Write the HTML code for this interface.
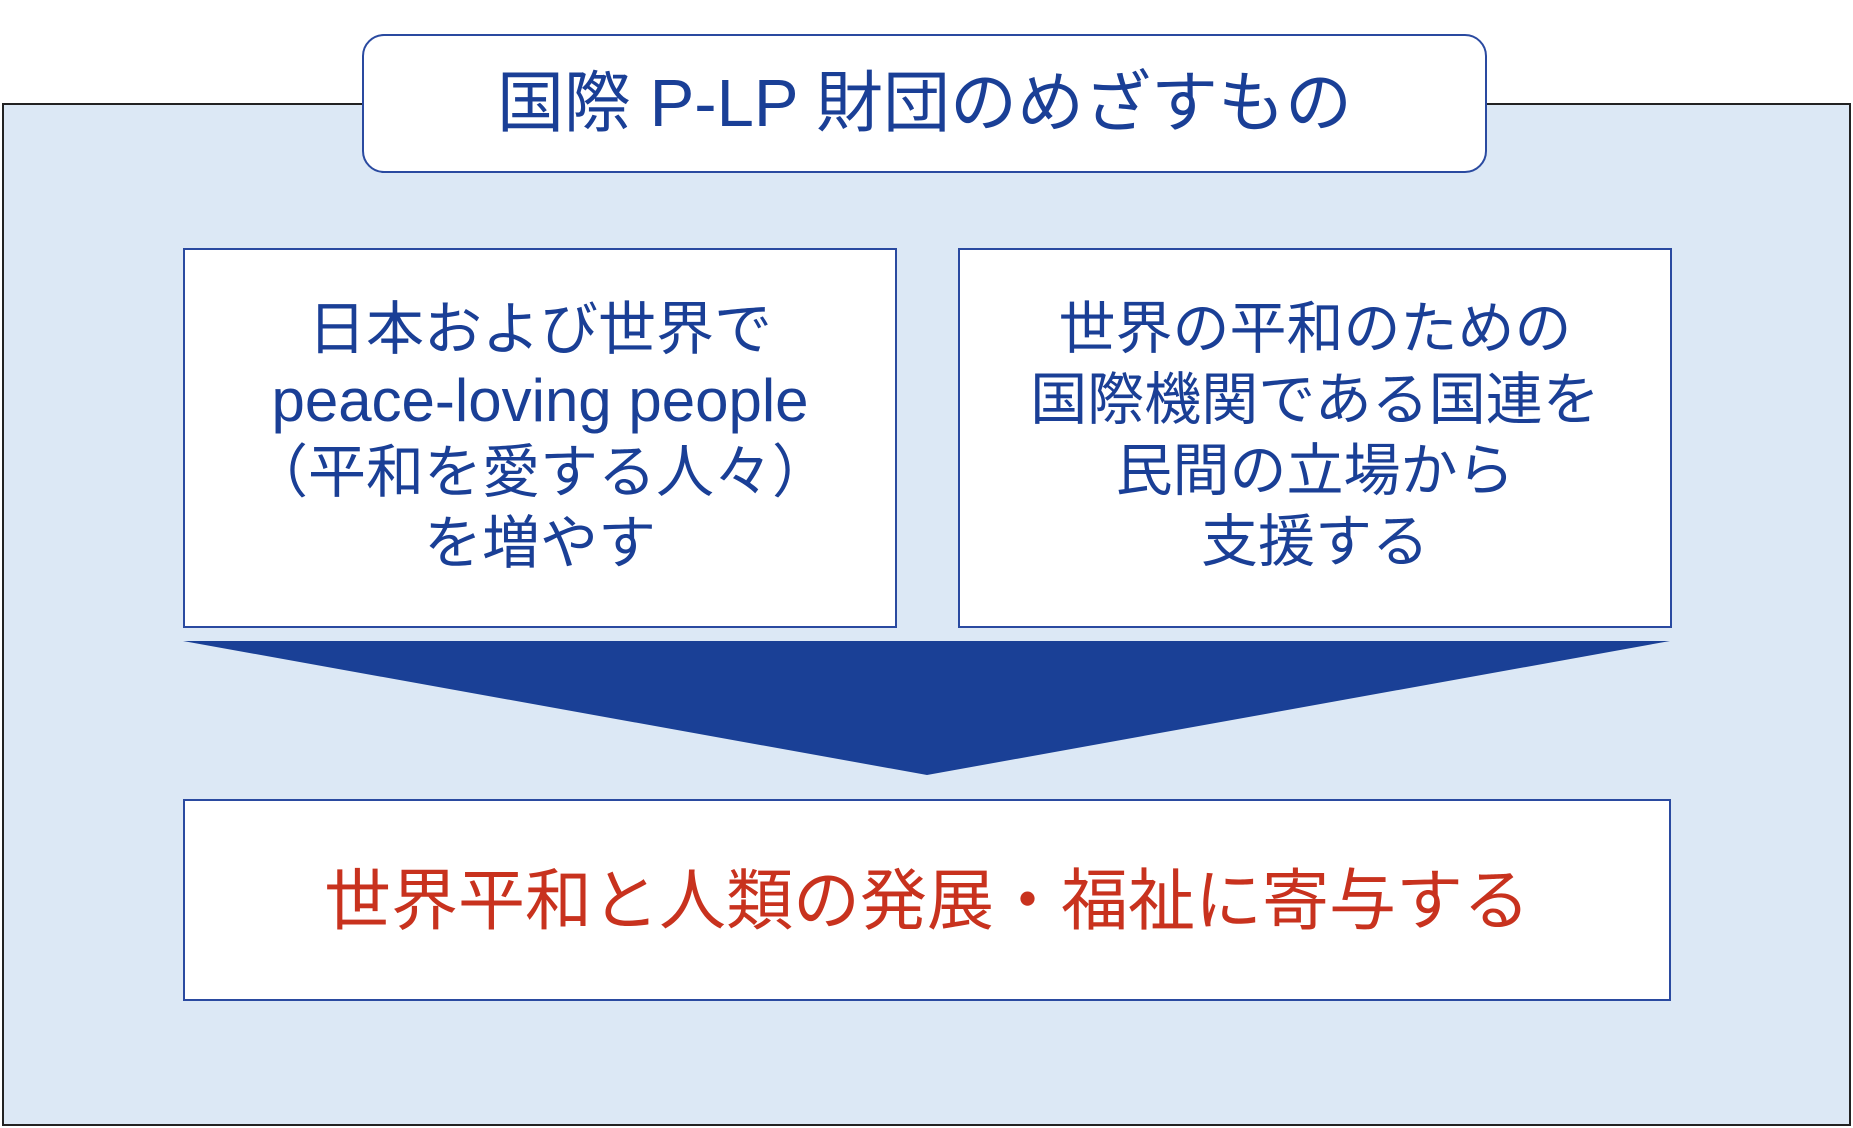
<!DOCTYPE html>
<html><head><meta charset="utf-8"><style>
html,body{margin:0;padding:0;width:1853px;height:1128px;background:#fff;overflow:hidden;position:relative}
*{box-sizing:border-box}
.f{font-family:"Liberation Sans","Noto Sans CJK JP",sans-serif}
#bg{position:absolute;left:2px;top:103px;width:1849px;height:1023px;background:#dce8f5;border:2px solid #222}
.box{position:absolute;background:#fff;border:2px solid #2a4aa0;display:flex;align-items:center;justify-content:center;text-align:center;color:#1a3f96}
#title{left:362px;top:34px;width:1125px;height:139px;border-radius:22px;font-size:67px;padding-bottom:12px}
#l{left:183px;top:248px;width:714px;height:380px;font-size:58px;line-height:71px;padding-bottom:4px}
#l .en{font-size:60px}
#r{left:958px;top:248px;width:714px;height:380px;font-size:57px;line-height:71px;padding-bottom:4px}
#b{left:183px;top:799px;width:1488px;height:202px;font-size:67px;color:#c8321e;padding-bottom:10px}
svg{position:absolute;left:0;top:0}
</style></head><body class="f">
<div id="bg"></div>
<div id="title" class="box">国際 P-LP 財団のめざすもの</div>
<div id="l" class="box"><div>日本および世界で<br><span class="en">peace-loving people</span><br>（平和を愛する人々）<br>を増やす</div></div>
<div id="r" class="box"><div>世界の平和のための<br>国際機関である国連を<br>民間の立場から<br>支援する</div></div>
<svg width="1853" height="1128"><polygon points="183,641 1670,641 927,775" fill="#1a4096"/></svg>
<div id="b" class="box">世界平和と人類の発展・福祉に寄与する</div>
</body></html>
